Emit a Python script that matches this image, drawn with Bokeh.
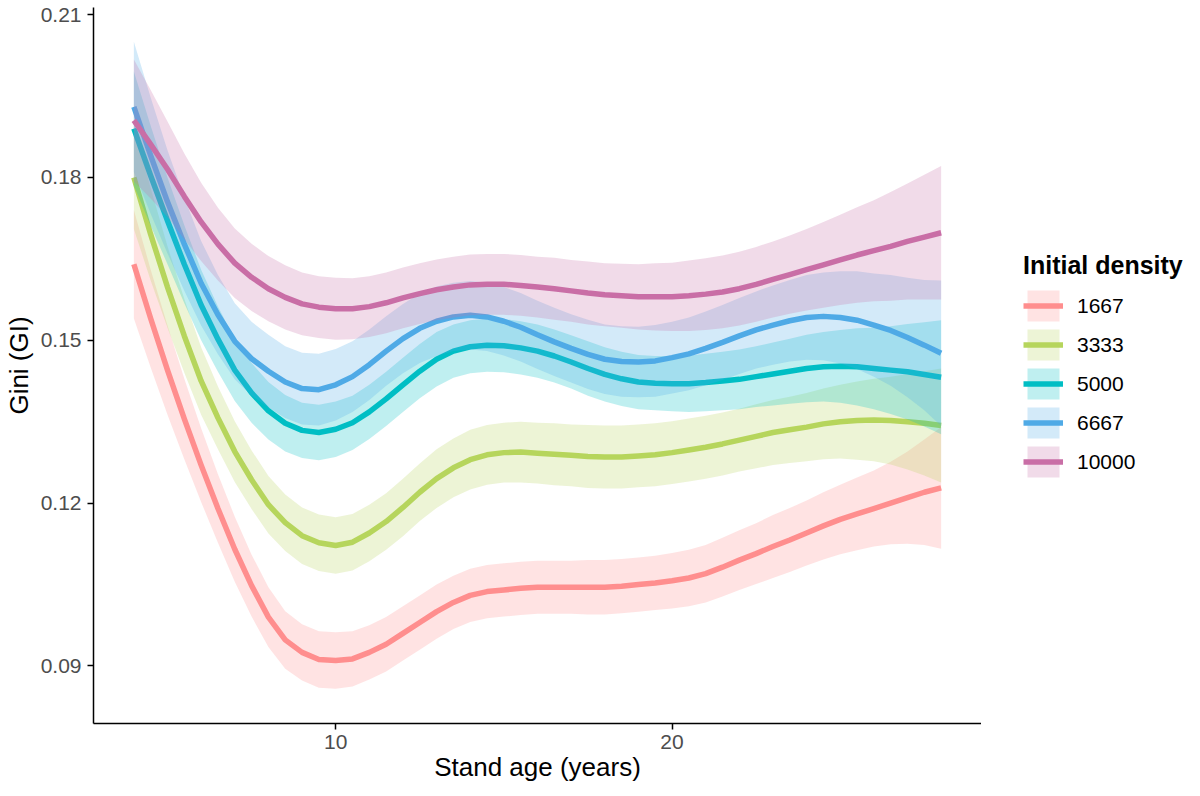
from bokeh.plotting import figure
from bokeh.layouts import row
from bokeh.models import (Range1d, FixedTicker, PrintfTickFormatter, Legend,
                          LegendItem, ColumnDataSource)
from bokeh.embed import file_html
from bokeh.resources import INLINE

# ---------------- data ----------------
age = [4, 4.5, 5, 5.5, 6, 6.5, 7, 7.5, 8, 8.5, 9, 9.5, 10, 10.5, 11, 11.5,
       12, 12.5, 13, 13.5, 14, 14.5, 15, 15.5, 16, 16.5, 17, 17.5, 18, 18.5,
       19, 19.5, 20, 20.5, 21, 21.5, 22, 22.5, 23, 23.5, 24, 24.5, 25, 25.5,
       26, 26.5, 27, 27.5, 28]

densities = ["1667", "3333", "5000", "6667", "10000"]

gini_1667 = [0.164, 0.154, 0.1445, 0.1355, 0.127, 0.119, 0.1115, 0.1048,
             0.099, 0.0948, 0.0925, 0.0912, 0.091, 0.0913, 0.0925, 0.094,
             0.096, 0.098, 0.100, 0.1017, 0.103, 0.1037, 0.104, 0.1043,
             0.1045, 0.1045, 0.1045, 0.1045, 0.1045, 0.1047, 0.105, 0.1053,
             0.1057, 0.1062, 0.107, 0.1082, 0.1095, 0.1107, 0.112, 0.1132,
             0.1145, 0.1158, 0.117, 0.118, 0.119, 0.120, 0.121, 0.122, 0.1228]
se_1667 = [0.010, 0.009, 0.0082, 0.0074, 0.0068, 0.0063, 0.006, 0.0057,
           0.0055, 0.0053, 0.0052, 0.0052, 0.0052, 0.0051, 0.005, 0.005,
           0.005, 0.005, 0.005, 0.0049, 0.0049, 0.0049, 0.0049, 0.0049,
           0.0049, 0.0049, 0.0049, 0.005, 0.005, 0.005, 0.005, 0.005,
           0.0051, 0.0052, 0.0053, 0.0054, 0.0055, 0.0056, 0.0058, 0.0059,
           0.006, 0.0062, 0.0064, 0.0067, 0.007, 0.0076, 0.0085, 0.0097, 0.0112]

gini_3333 = [0.180, 0.1695, 0.1598, 0.1508, 0.1425, 0.1357, 0.1295, 0.1243,
             0.1197, 0.1164, 0.114, 0.1127, 0.1122, 0.1128, 0.1145, 0.1166,
             0.1192, 0.122, 0.1245, 0.1265, 0.128, 0.1289, 0.1293, 0.1294,
             0.1292, 0.129, 0.1288, 0.1286, 0.1285, 0.1285, 0.1287, 0.1289,
             0.1293, 0.1298, 0.1303, 0.1309, 0.1316, 0.1323, 0.133, 0.1335,
             0.134, 0.1346, 0.135, 0.1352, 0.1353, 0.1352, 0.135, 0.1347, 0.1343]
se_3333 = [0.0095, 0.0085, 0.0075, 0.0068, 0.0062, 0.0058, 0.0056, 0.0054,
           0.0053, 0.0052, 0.0052, 0.0052, 0.0052, 0.0052, 0.0052, 0.0052,
           0.0053, 0.0053, 0.0054, 0.0054, 0.0055, 0.0055, 0.0055, 0.0056,
           0.0056, 0.0057, 0.0057, 0.0058, 0.0058, 0.0058, 0.0058, 0.0058,
           0.0058, 0.0058, 0.0058, 0.0058, 0.0058, 0.0059, 0.006, 0.0061,
           0.0063, 0.0065, 0.0068, 0.0072, 0.0076, 0.0081, 0.0088, 0.0096, 0.0105]

gini_5000 = [0.189, 0.1803, 0.172, 0.164, 0.1565, 0.1502, 0.1445, 0.1403,
             0.137, 0.1347, 0.1334, 0.133, 0.1336, 0.1348, 0.1368, 0.1392,
             0.1418, 0.1443, 0.1465, 0.148, 0.1488, 0.1491, 0.149, 0.1486,
             0.148, 0.1471, 0.146, 0.1448, 0.1437, 0.1429, 0.1423, 0.1421,
             0.142, 0.142, 0.1422, 0.1425, 0.1428, 0.1433, 0.1438, 0.1443,
             0.1448, 0.1451, 0.1452, 0.1451, 0.1448, 0.1445, 0.1442, 0.1437, 0.1432]
se_5000 = [0.0105, 0.0092, 0.008, 0.0072, 0.0065, 0.006, 0.0057, 0.0055,
           0.0053, 0.0052, 0.0051, 0.0051, 0.0051, 0.005, 0.005, 0.005,
           0.005, 0.005, 0.005, 0.0049, 0.0049, 0.0049, 0.0049, 0.0049,
           0.0049, 0.0049, 0.0049, 0.005, 0.005, 0.005, 0.005, 0.005,
           0.0051, 0.0052, 0.0053, 0.0054, 0.0055, 0.0056, 0.0058, 0.006,
           0.0062, 0.0064, 0.0067, 0.0071, 0.0075, 0.0081, 0.0088, 0.0096, 0.0105]

gini_6667 = [0.193, 0.184, 0.1755, 0.1677, 0.1605, 0.1547, 0.1498, 0.1466,
             0.1443, 0.1423, 0.1411, 0.1409, 0.1418, 0.1433, 0.1455, 0.148,
             0.1503, 0.1522, 0.1535, 0.1543, 0.1546, 0.1543, 0.1535, 0.1524,
             0.151, 0.1497, 0.1485, 0.1474, 0.1465, 0.1461, 0.146, 0.1462,
             0.1468, 0.1475, 0.1485, 0.1496, 0.1508, 0.1519, 0.1528, 0.1536,
             0.1542, 0.1544, 0.1542, 0.1537, 0.1528, 0.1518, 0.1505, 0.1491, 0.1476]
se_6667 = [0.012, 0.0107, 0.0095, 0.0086, 0.0078, 0.0073, 0.007, 0.0068,
           0.0067, 0.0066, 0.0066, 0.0066, 0.0066, 0.0065, 0.0065, 0.0064,
           0.0064, 0.0064, 0.0064, 0.0063, 0.0063, 0.0063, 0.0063, 0.0063,
           0.0063, 0.0063, 0.0063, 0.0064, 0.0064, 0.0065, 0.0065, 0.0066,
           0.0066, 0.0067, 0.0068, 0.0069, 0.007, 0.0071, 0.0073, 0.0075,
           0.0078, 0.0081, 0.0085, 0.009, 0.0095, 0.0102, 0.011, 0.012, 0.0134]

gini_10000 = [0.1905, 0.1861, 0.1815, 0.1765, 0.1718, 0.1677, 0.1642, 0.1616,
              0.1595, 0.1579, 0.1567, 0.1561, 0.1558, 0.1558, 0.1562, 0.1569,
              0.1578, 0.1586, 0.1593, 0.1598, 0.1602, 0.1603, 0.1603, 0.1601,
              0.1598, 0.1595, 0.1591, 0.1587, 0.1584, 0.1582, 0.158, 0.158,
              0.158, 0.1582, 0.1585, 0.1589, 0.1595, 0.1603, 0.1612, 0.1621,
              0.163, 0.1639, 0.1648, 0.1657, 0.1665, 0.1673, 0.1682, 0.169, 0.1698]
se_10000 = [0.0112, 0.010, 0.0088, 0.0079, 0.0072, 0.0067, 0.0064, 0.0062,
            0.006, 0.0059, 0.0058, 0.0057, 0.0057, 0.0056, 0.0056, 0.0056,
            0.0056, 0.0056, 0.0056, 0.0056, 0.0056, 0.0056, 0.0056, 0.0056,
            0.0056, 0.0057, 0.0057, 0.0058, 0.0058, 0.0059, 0.006, 0.0062,
            0.0063, 0.0065, 0.0066, 0.0067, 0.0068, 0.0069, 0.007, 0.0072,
            0.0075, 0.0079, 0.0083, 0.0088, 0.0093, 0.010, 0.0107, 0.0115, 0.0123]

means = [gini_1667, gini_3333, gini_5000, gini_6667, gini_10000]
ses = [se_1667, se_3333, se_5000, se_6667, se_10000]
colors = ["#FF8E8E", "#B6D55C", "#00BEC4", "#4FAAE6", "#C96EA6"]

x_ticks = [10, 20]
y_ticks = [0.09, 0.12, 0.15, 0.18, 0.21]

FONT = "Liberation Sans"
H = 788

# ---------------- main figure ----------------
p = figure(width=981, height=H,
           x_range=Range1d(2.8, 29.2), y_range=Range1d(0.0794, 0.2113),
           output_backend="svg", toolbar_location=None,
           min_border_left=93, min_border_right=0,
           min_border_top=7, min_border_bottom=65)
p.outline_line_color = None
p.xgrid.visible = False
p.ygrid.visible = False
p.background_fill_color = "white"
p.border_fill_color = "white"

# ---------------- legend panel ----------------
q = figure(width=203, height=H, x_range=Range1d(0, 1), y_range=Range1d(0, 1),
           output_backend="svg", toolbar_location=None,
           x_axis_type=None, y_axis_type=None,
           min_border_left=0, min_border_right=0,
           min_border_top=0, min_border_bottom=0)
q.outline_line_color = None
q.xgrid.visible = False
q.ygrid.visible = False
q.background_fill_color = "white"
q.border_fill_color = "white"

items = []
for name, m, s, c in zip(densities, means, ses, colors):
    lo = [a - b for a, b in zip(m, s)]
    hi = [a + b for a, b in zip(m, s)]
    src = ColumnDataSource(dict(x=age, y=m, lo=lo, hi=hi))
    p.varea(x="x", y1="lo", y2="hi", source=src, fill_color=c, fill_alpha=0.25)
    p.line(x="x", y="y", source=src, line_color=c, line_width=5.5,
           line_join="round", line_cap="butt")
    # same series in the legend panel (outside its view), used for the keys
    kb = q.varea(x="x", y1="lo", y2="hi", source=src, fill_color=c,
                 fill_alpha=0.25)
    kl = q.line(x="x", y="y", source=src, line_color=c, line_width=5.5,
                line_cap="butt")
    items.append(LegendItem(label=name, renderers=[kb, kl]))

for ax in (p.xaxis[0], p.yaxis[0]):
    ax.axis_line_color = "black"
    ax.axis_line_width = 1.5
    ax.major_tick_line_color = "black"
    ax.major_tick_line_width = 1.5
    ax.major_tick_out = 6
    ax.major_tick_in = 0
    ax.minor_tick_line_color = None
    ax.major_label_text_font = FONT
    ax.major_label_text_font_size = "21px"
    ax.major_label_text_color = "#4D4D4D"
    ax.axis_label_text_font = FONT
    ax.axis_label_text_font_size = "26px"
    ax.axis_label_text_font_style = "normal"
    ax.axis_label_text_color = "black"

p.xaxis.ticker = FixedTicker(ticks=x_ticks)
p.xaxis.formatter = PrintfTickFormatter(format="%d")
p.xaxis.axis_label = "Stand age (years)"
p.xaxis.major_label_standoff = 5
p.xaxis.axis_label_standoff = 0

p.yaxis.ticker = FixedTicker(ticks=y_ticks)
p.yaxis.formatter = PrintfTickFormatter(format="%.2f")
p.yaxis.axis_label = "Gini (GI)"
p.yaxis.major_label_standoff = 6
p.yaxis.axis_label_standoff = 4

legend = Legend(items=items, location=(42, 242), margin=0, padding=0,
                spacing=0, glyph_width=40, glyph_height=39,
                label_standoff=14, label_text_font=FONT,
                label_text_font_size="21px", label_text_color="black",
                title="Initial density", title_text_font=FONT,
                title_text_font_size="25px", title_text_font_style="bold",
                title_text_color="black", title_standoff=6,
                background_fill_alpha=0, border_line_color=None)
q.add_layout(legend)

layout = row(p, q)
open("out.html", "w").write(file_html(layout, INLINE))
